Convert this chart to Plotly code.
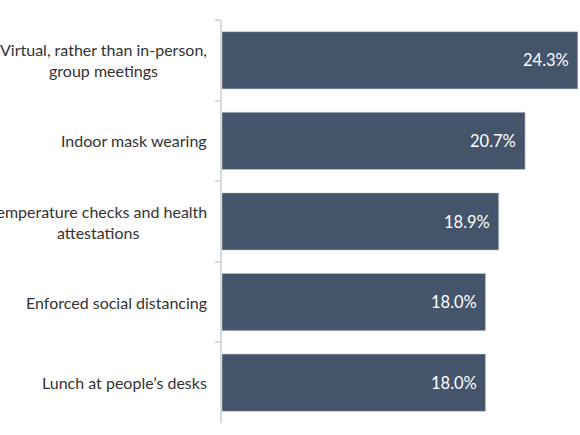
import plotly.graph_objects as go

categories = [
    "Virtual, rather than in-person,<br>group meetings",
    "Indoor mask wearing",
    "Temperature checks and health<br>attestations",
    "Enforced social distancing",
    "Lunch at people’s desks",
]
values = [24.3, 20.7, 18.9, 18.0, 18.0]
value_labels = ["24.3%", "20.7%", "18.9%", "18.0%", "18.0%"]

bar_color = "#44546A"
font_family = "Lato, 'Open Sans', sans-serif"

fig = go.Figure()
fig.add_trace(go.Bar(
    x=values,
    y=categories,
    orientation="h",
    marker=dict(color=bar_color, line=dict(color="#c9ced6", width=0.6)),
    hoverinfo="skip",
))

# category labels, centered lines, right edge near the axis
for cat in categories:
    fig.add_annotation(
        x=0, y=cat, xref="x", yref="y",
        text=cat, showarrow=False,
        xanchor="right", align="center", xshift=-13,
        font=dict(family=font_family, size=16, color="#333333"),
    )

# value labels inside the bar ends
for val, lab, cat in zip(values, value_labels, categories):
    fig.add_annotation(
        x=val, y=cat, xref="x", yref="y",
        text=lab, showarrow=False,
        xanchor="right", xshift=-7,
        font=dict(family=font_family, size=16.5, color="white"),
    )

fig.update_layout(
    width=580, height=435,
    margin=dict(l=222, r=0, t=20, b=12),
    paper_bgcolor="white",
    plot_bgcolor="white",
    bargap=0.29,
    showlegend=False,
    xaxis=dict(visible=False, range=[0, 24.45], fixedrange=True),
    yaxis=dict(
        autorange="reversed",
        showticklabels=False,
        showline=True, linecolor="#d9d9d9", linewidth=1.5,
        ticks="outside", tickson="boundaries", ticklen=5,
        tickcolor="#d9d9d9", tickwidth=1.5,
        showgrid=False, zeroline=False,
    ),
)

# drop the default page margin so the figure sits at the window corner
fig.write_html(
    "out.html",
    config={"displayModeBar": False},
    post_script="document.body.style.margin='0';",
)
